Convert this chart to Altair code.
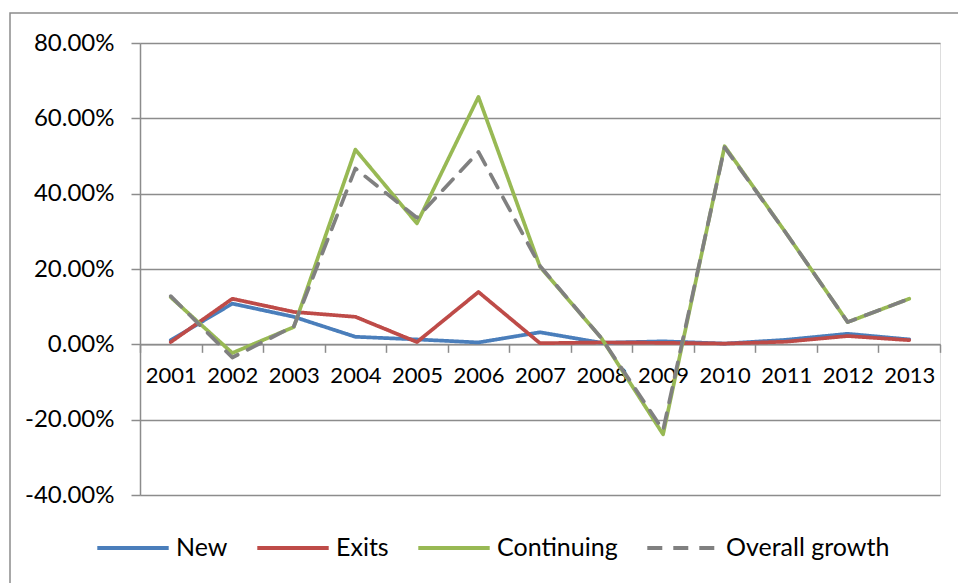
import altair as alt
import pandas as pd

# Annual growth decomposition, in percent
years = ["2001", "2002", "2003", "2004", "2005", "2006", "2007",
         "2008", "2009", "2010", "2011", "2012", "2013"]
new = [1.1, 10.8, 7.3, 2.0, 1.3, 0.5, 3.2, 0.4, 0.8, 0.2, 1.2, 2.8, 1.3]
exits = [0.6, 12.1, 8.6, 7.3, 0.6, 13.9, 0.3, 0.5, 0.4, 0.2, 0.7, 2.2, 1.1]
continuing = [12.5, -2.3, 4.6, 51.7, 32.1, 65.7, 20.6, 1.6, -23.9, 52.6, 29.5, 5.9, 12.1]
overall = [12.8, -3.5, 4.8, 46.7, 33.6, 51.1, 20.8, 1.6, -22.8, 52.3, 29.5, 5.9, 12.1]

series = ["New", "Exits", "Continuing", "Overall growth"]
colors = ["#4A7EBB", "#BE4B48", "#98B954", "#808080"]
dashes = [[1, 0], [1, 0], [1, 0], [15, 11]]

rows = []
for name, vals in zip(series, [new, exits, continuing, overall]):
    for y, v in zip(years, vals):
        rows.append({"year": y, "series": name, "value": v / 100.0})
df = pd.DataFrame(rows)

FONT = "Lato"
W, H = 800, 452
Y_MIN, Y_MAX = -0.4, 0.8
zero_offset = -H * (0 - Y_MIN) / (Y_MAX - Y_MIN)

x_enc = alt.X(
    "year:N",
    sort=years,
    scale=alt.Scale(type="band", paddingInner=0, paddingOuter=0),
    axis=alt.Axis(
        title=None, orient="bottom", offset=zero_offset,
        tickBand="extent", tickSize=8, tickColor="#8c8c8c", tickWidth=1.5,
        domainColor="#8c8c8c", domainWidth=1.5,
        labelAngle=0, labelPadding=13, labelFont=FONT, labelFontSize=22,
        labelColor="#000000", grid=False,
    ),
)
y_enc = alt.Y(
    "value:Q",
    scale=alt.Scale(domain=[Y_MIN, Y_MAX], nice=False, zero=False),
    axis=alt.Axis(
        title=None, values=[-0.4, -0.2, 0, 0.2, 0.4, 0.6, 0.8],
        labelExpr="(datum.value < 0 ? '-' : '') + format(abs(datum.value), '.2%')",
        tickSize=9, tickColor="#8c8c8c", tickWidth=1.5,
        domainColor="#8c8c8c", domainWidth=1.5,
        gridColor="#8c8c8c", gridWidth=1.5,
        labelPadding=17, labelFont=FONT, labelFontSize=24, labelColor="#000000",
    ),
)

legend_opts = dict(
    title=None, orient="none", legendX=-45, legendY=467, direction="horizontal",
    symbolType="stroke", symbolSize=5100, symbolStrokeWidth=4,
    labelFont=FONT, labelFontSize=25, labelColor="#000000", labelLimit=400,
    labelOffset=5, columnPadding=21, gridAlign="none",
)
color_enc = alt.Color(
    "series:N",
    scale=alt.Scale(domain=series, range=colors),
    legend=alt.Legend(**legend_opts),
)
dash_enc = alt.StrokeDash(
    "series:N",
    scale=alt.Scale(domain=series, range=dashes),
    legend=alt.Legend(**legend_opts),
)

layers = []
for name in series:
    layers.append(
        alt.Chart(df)
        .transform_filter(alt.datum.series == name)
        .mark_line(strokeWidth=3.7, strokeCap="round", strokeJoin="round")
        .encode(x=x_enc, y=y_enc, color=color_enc, strokeDash=dash_enc)
    )

# Outer frame of the chart area
frame = alt.Chart(pd.DataFrame({"k": [0]})).mark_rect(
    fill=None, stroke="#8c8c8c", strokeWidth=1.5
).encode(
    x=alt.value(-130), x2=alt.value(W + 100),
    y=alt.value(-30), y2=alt.value(H + 200),
)

chart = (
    alt.layer(frame, *layers)
    .properties(
        width=W, height=H,
        autosize=alt.AutoSizeParams(type="none"),
        padding={"left": 140, "top": 43, "right": 18, "bottom": 88},
    )
    .configure_view(stroke=None)
    .configure(background="#ffffff")
)

chart.save("out.html", embed_options={"renderer": "svg", "actions": False})
